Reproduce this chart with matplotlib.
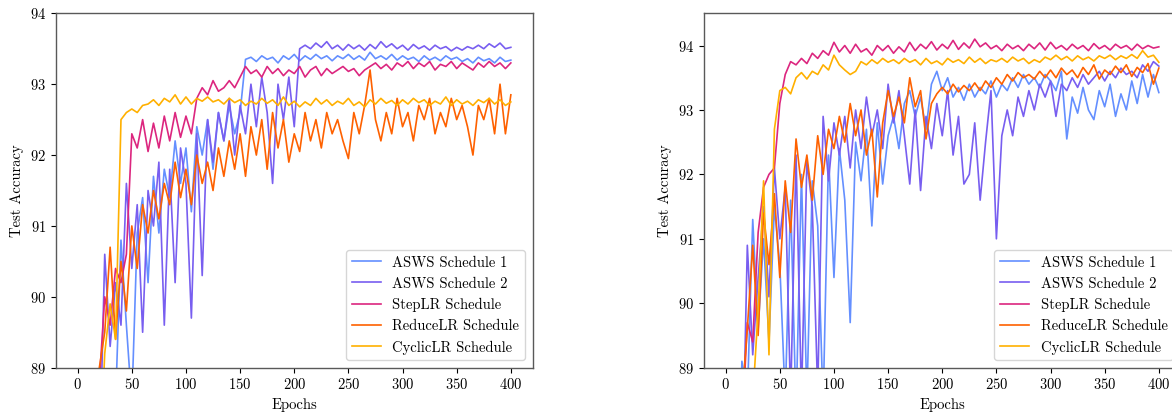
import numpy as np
import matplotlib
matplotlib.use("Agg")
import matplotlib.pyplot as plt

plt.rcParams['font.family'] = 'cmr10'
plt.rcParams['mathtext.fontset'] = 'cm'
plt.rcParams['axes.formatter.use_mathtext'] = True
plt.rcParams['font.size'] = 10.5

labels = ["ASWS Schedule 1", "ASWS Schedule 2", "StepLR Schedule", "ReduceLR Schedule", "CyclicLR Schedule"]
colors = ["#648FFF", "#785EF0", "#DC267F", "#FE6100", "#FFB000"]

# test accuracy read every 5 epochs
epochs = np.arange(0, 401, 5)

# ---- left run ----
left_asws1 = [83, 83.5, 84, 84.5, 85, 86, 87, 88.5, 90.8, 89.6,
              88.5, 90.9, 91.4, 90.2, 91.7, 90.9, 91.8, 91.4, 92.2, 91.6,
              92.1, 91.2, 92.4, 92.0, 92.5, 91.8, 92.6, 92.2, 92.7, 92.3,
              92.6, 93.35, 93.38, 93.32, 93.4, 93.35, 93.38, 93.3, 93.4, 93.35,
              93.42, 93.33, 93.4, 93.35, 93.42, 93.36, 93.4, 93.33, 93.4, 93.36,
              93.42, 93.35, 93.4, 93.34, 93.45, 93.36, 93.4, 93.35, 93.42, 93.34,
              93.4, 93.35, 93.38, 93.32, 93.4, 93.34, 93.38, 93.33, 93.4, 93.35,
              93.38, 93.32, 93.36, 93.3, 93.38, 93.33, 93.36, 93.3, 93.38, 93.32,
              93.34]
left_asws2 = [83, 84, 85, 86, 87.5, 90.6, 89.3, 90.2, 89.6, 91.6,
              90.4, 91.3, 89.5, 91.5, 91.0, 91.9, 89.6, 91.8, 90.2, 92.1,
              91.6, 89.7, 92.3, 90.3, 92.5, 91.9, 92.6, 92.2, 92.8, 92.0,
              92.7, 92.3, 93.0, 92.4, 93.1, 92.6, 91.6, 93.0, 92.5, 93.1,
              92.4, 93.5, 93.55, 93.5, 93.58, 93.52, 93.6, 93.5, 93.55, 93.48,
              93.56, 93.5, 93.55, 93.48, 93.56, 93.5, 93.6, 93.52, 93.57, 93.5,
              93.55, 93.48, 93.56, 93.5, 93.54, 93.48, 93.55, 93.5, 93.53, 93.47,
              93.52, 93.48, 93.53, 93.5, 93.55, 93.5, 93.57, 93.52, 93.58, 93.5,
              93.52]
left_step = [84, 85, 86, 87.5, 88.8, 90.0, 89.6, 90.4, 90.2, 90.6,
             92.3, 92.1, 92.5, 92.05, 92.45, 92.1, 92.55, 92.2, 92.6, 92.25,
             92.55, 92.3, 92.8, 92.95, 92.85, 93.05, 92.9, 92.95, 93.05, 92.95,
             93.1, 93.25, 93.15, 93.2, 93.1, 93.25, 93.15, 93.22, 93.12, 93.2,
             93.15, 93.25, 93.1, 93.2, 93.25, 93.12, 93.22, 93.15, 93.2, 93.25,
             93.18, 93.22, 93.12, 93.2, 93.25, 93.3, 93.22, 93.28, 93.2, 93.3,
             93.25, 93.32, 93.22, 93.3, 93.25, 93.32, 93.2, 93.28, 93.25, 93.32,
             93.22, 93.3, 93.25, 93.2, 93.3, 93.24, 93.32, 93.25, 93.3, 93.22,
             93.3]
left_reduce = [83, 84, 85.5, 87, 89.0, 89.5, 90.7, 89.4, 90.5, 89.8,
               91.0, 90.4, 91.3, 90.9, 91.5, 91.1, 91.6, 91.3, 91.9, 91.4,
               91.8, 91.3, 92.0, 91.6, 91.9, 91.5, 92.1, 91.7, 92.2, 91.8,
               92.3, 91.7, 92.4, 92.0, 92.5, 91.8, 92.6, 92.1, 92.5, 91.9,
               92.3, 92.05, 92.6, 92.2, 92.5, 92.1, 92.6, 92.3, 92.5, 92.2,
               91.95, 92.6, 92.3, 92.7, 93.2, 92.5, 92.2, 92.6, 92.3, 92.8,
               92.4, 92.6, 92.2, 92.7, 92.5, 92.8, 92.3, 92.6, 92.4, 92.8,
               92.5, 92.7, 92.4, 92.0, 92.7, 92.5, 92.8, 92.3, 93.0, 92.3,
               92.85]
left_cyclic = [84, 84.5, 85, 86, 87.5, 89.2, 89.9, 89.4, 92.5, 92.6,
               92.65, 92.6, 92.7, 92.72, 92.78, 92.7, 92.8, 92.75, 92.85, 92.72,
               92.82, 92.72, 92.8, 92.76, 92.82, 92.75, 92.78, 92.72, 92.8, 92.74,
               92.78, 92.7, 92.76, 92.72, 92.8, 92.73, 92.78, 92.7, 92.82, 92.7,
               92.76, 92.68, 92.75, 92.7, 92.8, 92.72, 92.78, 92.7, 92.76, 92.72,
               92.8, 92.7, 92.75, 92.68, 92.78, 92.72, 92.8, 92.73, 92.77, 92.7,
               92.78, 92.72, 92.8, 92.74, 92.78, 92.7, 92.76, 92.72, 92.82, 92.7,
               92.78, 92.72, 92.76, 92.7, 92.78, 92.74, 92.8, 92.72, 92.78, 92.7,
               92.75]

# ---- right run ----
right_asws1 = [83, 84.5, 86, 89.1, 88.5, 91.3, 89.6, 91.0, 89.4, 91.5,
               90.6, 88.5, 91.6, 88.3, 92.0, 88.5, 91.9, 91.2, 88.4, 92.3,
               90.4, 92.4, 91.6, 89.7, 92.5, 91.9, 92.7, 91.2, 92.8, 91.85,
               92.6, 92.9, 92.4, 93.1, 93.3, 92.9, 93.2, 92.7, 93.4, 93.6,
               93.3, 93.5, 93.2, 93.35, 93.15, 93.4, 93.2, 93.35, 93.25, 93.45,
               93.2, 93.4, 93.3, 93.5, 93.35, 93.55, 93.4, 93.5, 93.35, 93.55,
               93.45, 93.3, 93.6, 92.55, 93.2, 92.95, 93.35, 93.0, 92.85, 93.3,
               93.05, 93.4, 92.9, 93.25, 93.0, 93.45, 93.1, 93.55, 93.2, 93.55,
               93.27]
right_asws2 = [83, 84, 85.5, 87, 90.9, 89.2, 90.4, 91.5, 90.1, 92.1,
               91.0, 91.8, 88.5, 92.3, 88.5, 92.2, 91.5, 88.6, 92.9, 91.9,
               92.8, 92.3, 92.9, 92.1, 93.0, 92.4, 93.2, 92.6, 93.0, 92.4,
               93.4, 92.8, 93.3, 92.6, 91.85, 93.0, 91.75, 92.9, 92.4, 93.1,
               92.6, 93.3, 92.3, 92.9, 91.85, 92.0, 92.8, 91.6, 92.5, 93.3,
               91.0, 92.6, 93.0, 92.6, 93.2, 92.9, 93.3, 93.0, 93.4, 93.2,
               93.45, 92.9, 93.4, 93.3, 93.5, 93.35, 93.55, 93.4, 93.5, 93.6,
               93.45, 93.6, 93.5, 93.65, 93.55, 93.6, 93.5, 93.7, 93.6, 93.75,
               93.68]
right_step = [84, 85, 86.5, 88.0, 89.7, 89.4, 91.1, 91.8, 92.0, 92.1,
              93.1, 93.55, 93.75, 93.7, 93.8, 93.72, 93.88, 93.8, 93.92, 93.85,
              94.05, 93.9, 94.0, 93.88, 94.02, 93.9, 93.95, 93.85, 94.0, 93.92,
              94.0, 93.88, 93.98, 93.9, 94.05, 93.92, 94.02, 93.95, 94.06, 93.93,
              94.02, 93.95, 94.08, 93.94, 94.04, 93.96, 94.1, 93.98, 94.04, 93.95,
              94.0, 93.92, 94.02, 93.95, 94.0, 93.92, 94.02, 93.95, 94.04, 93.93,
              94.05, 93.95, 94.0, 93.93, 94.02, 93.95, 94.0, 93.92, 94.03, 93.95,
              94.0, 93.93, 94.02, 93.96, 94.0, 93.93, 94.02, 93.95, 94.0, 93.96,
              93.98]
right_reduce = [84, 85, 86.5, 88.5, 89.6, 90.9, 89.5, 91.4, 90.6, 91.7,
                90.4, 91.9, 91.1, 92.55, 91.8, 92.3, 91.6, 92.6, 92.0, 92.7,
                92.4, 92.9, 92.5, 93.1, 92.6, 93.0, 92.3, 92.7, 91.65, 92.8,
                93.3, 92.9, 93.2, 92.8, 93.5, 93.05, 93.3, 92.55, 93.1, 93.25,
                93.35, 93.25, 93.4, 93.28, 93.38, 93.3, 93.42, 93.3, 93.45, 93.35,
                93.5, 93.4, 93.55, 93.45, 93.58, 93.5, 93.55, 93.48, 93.6, 93.5,
                93.62, 93.5, 93.65, 93.55, 93.62, 93.5, 93.66, 93.55, 93.7, 93.48,
                93.62, 93.55, 93.68, 93.58, 93.7, 93.52, 93.66, 93.58, 93.72, 93.4,
                93.65]
right_cyclic = [84, 85, 86, 87, 88.8, 88.5, 89.9, 91.9, 89.2, 92.7,
                93.3, 93.35, 93.25, 93.5, 93.58, 93.48, 93.6, 93.55, 93.7, 93.62,
                93.85, 93.7, 93.62, 93.55, 93.6, 93.75, 93.7, 93.78, 93.72, 93.8,
                93.74, 93.78, 93.72, 93.8, 93.74, 93.78, 93.7, 93.8, 93.72, 93.76,
                93.7, 93.8, 93.74, 93.78, 93.72, 93.82, 93.74, 93.8, 93.72, 93.78,
                93.75, 93.8, 93.74, 93.82, 93.76, 93.8, 93.72, 93.78, 93.74, 93.82,
                93.78, 93.85, 93.78, 93.83, 93.76, 93.84, 93.78, 93.82, 93.76, 93.84,
                93.8, 93.85, 93.78, 93.84, 93.8, 93.86, 93.8, 93.92, 93.82, 93.85,
                93.74]

left_series = [left_asws1, left_asws2, left_step, left_reduce, left_cyclic]
right_series = [right_asws1, right_asws2, right_step, right_reduce, right_cyclic]

W, H = 1172, 413
fig = plt.figure(figsize=(W / 100, H / 100), dpi=100)
ax1 = fig.add_axes([56 / W, 1 - 367.7 / H, 476.5 / W, 354.4 / H])
ax2 = fig.add_axes([704 / W, 1 - 367.7 / H, 476.5 / W, 354.4 / H])


def draw(ax, series, ytop):
    for vals, lab, col in zip(series, labels, colors):
        ax.plot(epochs, vals, color=col, lw=1.2, label=lab)
    ax.set_xlim(-20, 420)
    ax.set_ylim(89, ytop)
    ax.set_xticks(range(0, 401, 50))
    ax.set_yticks(range(89, 95))
    ax.set_xlabel("Epochs")
    ax.set_ylabel("Test Accuracy")
    for s in ax.spines.values():
        s.set_color("0.35")
        s.set_linewidth(1.0)
    ax.legend(loc="lower right", fontsize=10.5)


draw(ax1, left_series, 94)
draw(ax2, right_series, 94.5)

fig.savefig("out.png", dpi=100)
